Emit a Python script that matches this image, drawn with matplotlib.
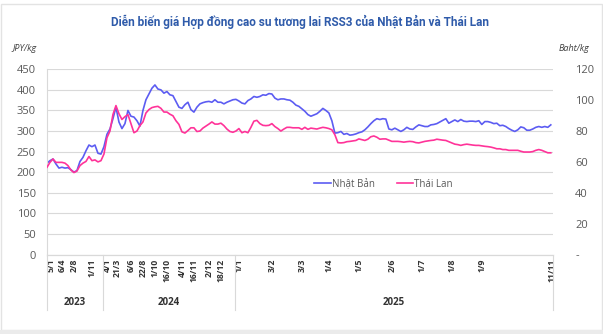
import numpy as np
import matplotlib
matplotlib.use("Agg")
import matplotlib.pyplot as plt
from matplotlib.patches import Rectangle
import matplotlib.transforms as mtransforms

plt.rcParams['font.family'] = ['Open Sans', 'DejaVu Sans']

# RSS3 futures, one value per category slot
japan_jpy = [
    222, 228, 232, 220, 210, 212, 210, 211, 206, 200, 204, 226, 236, 252, 266, 262,
    266, 246, 244, 262, 292, 305, 330, 358, 322, 306, 318, 350, 336, 334, 325, 312,
    350, 376, 390, 404, 412, 402, 400, 392, 396, 388, 386, 372, 358, 355, 364, 370,
    352, 346, 358, 366, 369, 371, 372, 370, 376, 370, 370, 366, 370, 373, 376, 377,
    373, 368, 366, 374, 378, 384, 382, 384, 388, 387, 391, 390, 380, 376, 378, 378,
    376, 375, 370, 363, 360, 354, 348, 340, 336, 339, 342, 348, 355, 350, 344, 325,
    295, 296, 299, 292, 294, 290, 291, 293, 296, 298, 303, 310, 318, 325, 330, 328,
    330, 329, 305, 303, 307, 303, 299, 303, 309, 305, 304, 310, 315, 313, 311, 311,
    315, 316, 318, 322, 326, 330, 319, 323, 327, 323, 328, 324, 323, 324, 324, 323,
    325, 316, 323, 323, 321, 318, 319, 313, 314, 311, 306, 302, 299, 303, 310, 308,
    302, 302, 305, 309, 311, 309, 311, 309, 315,
]

thai_baht = [
    56.5, 59.7, 61.9, 59.7, 59.7, 59.7, 59.2, 57.6, 54.7, 53.1, 54.1, 57.6, 59.2, 60.3,
    63.5, 60.8, 61.3, 60.0, 60.8, 65.1, 75.7, 80.0, 90.7, 96.5, 91.2, 87.5, 89.3, 90.7,
    84.8, 78.9, 80.0, 83.5, 85.9, 91.7, 93.9, 95.2, 95.7, 96.0, 94.7, 92.3, 92.3, 90.9,
    89.9, 86.7, 84.3, 79.5, 78.7, 80.3, 82.1, 82.1, 79.7, 80.0, 81.9, 83.2, 84.5, 85.9,
    84.5, 84.5, 85.1, 83.5, 81.3, 79.7, 79.2, 80.0, 81.6, 78.9, 79.7, 78.9, 82.4, 86.4,
    86.9, 84.8, 83.7, 83.5, 83.7, 84.8, 82.9, 81.6, 80.0, 81.3, 82.4, 82.4, 82.1, 82.1,
    82.1, 81.1, 82.4, 81.1, 81.9, 81.6, 81.3, 81.9, 82.4, 82.1, 81.6, 80.8, 77.6, 72.5,
    72.3, 72.5, 73.1, 73.3, 73.6, 73.9, 74.9, 74.4, 73.9, 74.7, 76.3, 76.8, 76.0, 74.7,
    74.9, 74.9, 74.1, 73.3, 73.3, 73.3, 73.1, 72.8, 73.1, 73.3, 73.1, 72.5, 72.3, 72.8,
    73.3, 73.6, 73.9, 74.1, 74.7, 74.4, 74.1, 73.9, 73.1, 72.3, 71.5, 71.2, 70.7, 71.2,
    71.5, 71.2, 70.9, 70.7, 70.7, 70.4, 70.1, 69.9, 69.6, 69.1, 68.5, 68.5, 68.0, 68.0,
    67.5, 67.5, 67.5, 67.5, 66.9, 66.4, 66.4, 66.4, 66.7, 67.5, 68.0, 67.5, 66.7, 65.9,
    65.9,
]

tick_pos = [1.5, 5, 9, 15, 20.2, 23.3, 28, 32, 36, 40, 45, 49, 54, 58, 64.2, 75, 85, 94,
            104, 115, 125, 135, 145, 168.3]
tick_labels = ["5/1", "6/4", "2/8", "1/11", "4/1", "21/3", "6/6", "22/8", "1/10",
               "16/10", "4/11", "16/11", "2/12", "18/12", "1/1", "3/2", "3/3", "1/4",
               "1/5", "2/6", "1/7", "1/8", "1/9", "11/11"]
years = ["2023", "2024", "2025"]
year_bounds = [0, 18.67, 62.67, 168.7]

jpy_ticks = list(range(0, 451, 50))
baht_ticks = list(range(0, 121, 20))

BLUE = "#5C5CF2"
PINK = "#FF3399"
GRID = "#D9D9D9"
TXT = "#595959"

assert len(japan_jpy) == len(thai_baht)
x = np.arange(len(japan_jpy))

fig = plt.figure(figsize=(6.03, 3.34), dpi=100)
fig.patches.append(Rectangle((0.002, 0.012), 0.996, 0.976, transform=fig.transFigure,
                             fill=False, edgecolor="#E3E3E3", lw=1))
fig.patches.append(Rectangle((0, 0), 1, 0.012, transform=fig.transFigure,
                             facecolor="#EBEBEB", edgecolor="none"))

ax = fig.add_axes([0.0779, 0.238, 0.839, 0.5545])
ax2 = ax.twinx()

l1, = ax.plot(x, japan_jpy, color=BLUE, lw=1.2, label="Nhật Bản")
l2, = ax2.plot(x, thai_baht, color=PINK, lw=1.2, label="Thái Lan")

ax.set_xlim(0, year_bounds[-1])
ax.set_ylim(0, 450)
ax2.set_ylim(0, 120)
ax.set_yticks(jpy_ticks)
ax.set_yticklabels([str(v) for v in jpy_ticks])
ax2.set_yticks(baht_ticks)
ax2.set_yticklabels(["-" if v == 0 else str(v) for v in baht_ticks])

ax.grid(axis="y", color=GRID, lw=0.8)
ax.set_axisbelow(True)
for a in (ax, ax2):
    for s in ("top", "right"):
        a.spines[s].set_visible(False)
    a.spines["left"].set_visible(False)
    a.spines["bottom"].set_color(GRID)
ax.spines["left"].set_visible(True)
ax.spines["left"].set_color(GRID)

ax.tick_params(axis="y", length=0, labelsize=8, labelcolor=TXT, pad=8)
ax2.tick_params(axis="y", length=0, labelsize=8, labelcolor=TXT, pad=16)

ax.set_xticks(tick_pos)
ax.set_xticklabels(tick_labels, rotation=90, fontsize=6.2, fontweight="bold",
                   color="#333333")
ax.tick_params(axis="x", length=0, pad=3)

# year groups under the date labels
trans = mtransforms.blended_transform_factory(ax.transData, ax.transAxes)
for b in year_bounds:
    ax.plot([b, b], [0, -0.3], color=GRID, lw=0.8, transform=trans, clip_on=False)
for i, yr in enumerate(years):
    mid = (year_bounds[i] + year_bounds[i + 1]) / 2
    ax.text(mid, -0.26, yr, transform=trans, ha="center", va="center",
            fontsize=7, fontweight="bold", color="#333333")

ax.legend(handles=[l1, l2], loc="center", bbox_to_anchor=(0.665, 0.38), ncol=2,
          frameon=False, fontsize=7, labelcolor=TXT, handlelength=1.7,
          handletextpad=0.1, columnspacing=2.3)

fig.text(0.497, 0.934, "Diễn biến giá Hợp đồng cao su tương lai RSS3 của Nhật Bản và Thái Lan",
         ha="center", va="center", fontsize=8.5, fontweight="bold", color="#2F5BAA",
         family=["Roboto", "DejaVu Sans"])
fig.text(0.02, 0.856, "JPY/kg", ha="left", va="center", fontsize=6.5, style="italic",
         color="#404040")
fig.text(0.978, 0.856, "Baht/kg", ha="right", va="center", fontsize=6.5, style="italic",
         color="#404040")

fig.savefig("out.png", dpi=100)
